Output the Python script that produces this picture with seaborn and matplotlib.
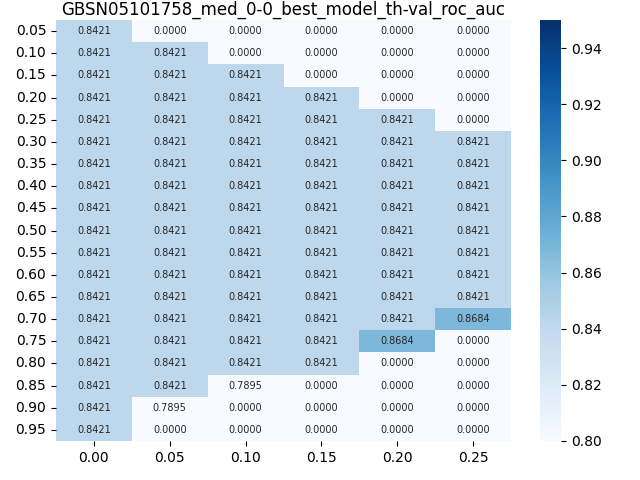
import numpy as np
import pandas as pd
import matplotlib
matplotlib.use('Agg')
import matplotlib.pyplot as plt
import seaborn as sns

# thresholds
row_labels = ['0.05', '0.10', '0.15', '0.20', '0.25', '0.30', '0.35', '0.40', '0.45', '0.50',
              '0.55', '0.60', '0.65', '0.70', '0.75', '0.80', '0.85', '0.90', '0.95']
col_labels = ['0.00', '0.05', '0.10', '0.15', '0.20', '0.25']

a = 0.8421
b = 0.8684
c = 0.7895
scores = [
    [a, 0, 0, 0, 0, 0],
    [a, a, 0, 0, 0, 0],
    [a, a, a, 0, 0, 0],
    [a, a, a, a, 0, 0],
    [a, a, a, a, a, 0],
    [a, a, a, a, a, a],
    [a, a, a, a, a, a],
    [a, a, a, a, a, a],
    [a, a, a, a, a, a],
    [a, a, a, a, a, a],
    [a, a, a, a, a, a],
    [a, a, a, a, a, a],
    [a, a, a, a, a, a],
    [a, a, a, a, a, b],
    [a, a, a, a, b, 0],
    [a, a, a, a, 0, 0],
    [a, a, c, 0, 0, 0],
    [a, c, 0, 0, 0, 0],
    [a, 0, 0, 0, 0, 0],
]

df = pd.DataFrame(scores, index=row_labels, columns=col_labels)

fig = plt.figure(figsize=(6.4, 4.8), dpi=100)
ax = fig.add_axes([0.0875, 0.08125, 0.711, 0.877])
cax = fig.add_axes([0.84375, 0.08125, 0.0328, 0.877])
sns.heatmap(df, annot=True, fmt='.4f', cmap='Blues', vmin=0.8, vmax=0.95,
            annot_kws={'fontsize': 7}, ax=ax, cbar_ax=cax)
ax.tick_params(axis='y', rotation=0)
# small pad so the title stays inside the figure
ax.set_title('GBSN05101758_med_0-0_best_model_th-val_roc_auc', pad=4)
plt.savefig('out.png')
